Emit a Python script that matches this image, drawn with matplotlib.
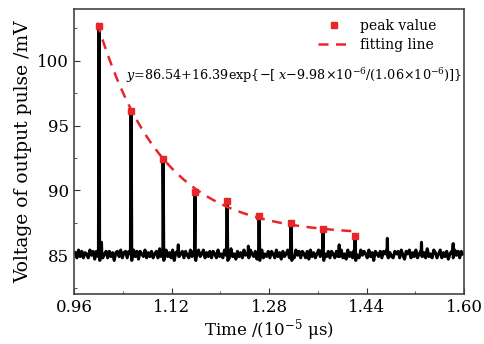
import numpy as np
import matplotlib.pyplot as plt
from matplotlib.ticker import MultipleLocator

plt.rcParams['font.family'] = 'DejaVu Serif'
plt.rcParams['mathtext.fontset'] = 'dejavuserif'

# peak positions (10^-5 us) and peak voltages (mV)
peak_t = [1.001, 1.0535, 1.106, 1.1585, 1.211, 1.2635, 1.316, 1.3685, 1.421]
peak_v = [102.7, 96.15, 92.45, 89.85, 89.15, 88.0, 87.45, 87.05, 86.45]

# small stray spikes on the baseline
spike_t = [1.005, 1.131, 1.246, 1.395, 1.474, 1.530, 1.582]
spike_v = [86.0, 85.8, 85.7, 85.8, 86.3, 86.0, 85.9]

baseline = 85.1
# baseline noise (mV offsets)
noise = [0.1, -0.3, 0.3, -0.2, 0.2, -0.3, 0.1, 0.0, -0.3, 0.3, -0.1, 0.2,
         -0.4, 0.2, -0.2, 0.2, 0.3, -0.3, 0.0, 0.2, -0.3, 0.2, -0.2, 0.1,
         -0.5, 0.1, 0.2, -0.2, 0.3, -0.3, 0.1, 0.2, -0.3, 0.2, 0.0, -0.3,
         0.3, -0.2, 0.2, -0.4, 0.2, 0.0, -0.2, 0.3, -0.3, 0.1, -0.2, 0.2,
         -0.3, 0.0, 0.2, -0.3, 0.4, -0.2, 0.0, -0.3, 0.3, -0.2, 0.1, -0.3,
         0.3, -0.5, 0.1, 0.2, -0.2, 0.0, 0.2, -0.3, 0.2, -0.1, -0.3, 0.3,
         -0.2, 0.2, -0.4, 0.0, 0.3, -0.2, 0.0, 0.3, -0.3, 0.1, -0.2, 0.2,
         -0.3, 0.2, 0.0, -0.3, 0.3, -0.2, 0.0, -0.3, 0.3, -0.1, 0.2, -0.3,
         0.4, -0.2, 0.0, -0.4, 0.2, -0.2, 0.1, -0.3, 0.3, -0.1, 0.0, -0.3,
         0.3, 0.0, -0.2, 0.2, -0.4, 0.2, -0.2, 0.3, -0.3, 0.0, -0.2, 0.2,
         -0.3, 0.2, 0.0, -0.3, 0.3, -0.2, 0.1, -0.4, 0.2, -0.2, 0.0, 0.3,
         -0.3, 0.1, -0.2, -0.3, 0.3, -0.1, 0.2, -0.3, 0.2, 0.0, -0.3, 0.2,
         -0.4, 0.3, -0.2, 0.1, -0.3, 0.0, 0.3, -0.2, 0.3, -0.3, 0.0, -0.2,
         0.2, -0.3, 0.2, 0.0, -0.3, 0.2, -0.2, 0.1, 0.3, -0.3, 0.0, -0.4,
         0.3, -0.2, 0.1, -0.3, 0.3, 0.0, -0.2, -0.3, 0.3, -0.1, 0.2, 0.0,
         -0.3, 0.3, -0.2, 0.1, -0.5, 0.2, 0.0, -0.2, 0.2, -0.3, 0.2, 0.0,
         0.3, -0.3, 0.1, -0.2, -0.3, 0.2, 0.0, 0.2, -0.3, 0.3, -0.1, -0.4,
         0.2, 0.0, 0.3, -0.3, 0.1, -0.2, 0.3, -0.3, 0.0, 0.2, -0.2, 0.1,
         -0.3, 0.4, -0.2, 0.0, -0.3, 0.3, 0.1, -0.3, 0.0, 0.3, -0.3, 0.1,
         -0.2, 0.2, -0.4, 0.0, 0.2, -0.3, 0.3, -0.1, 0.2, -0.3, 0.2, 0.0]

# fit parameters from the figure's equation (x in 10^-5 us)
fit_a, fit_b, fit_x0, fit_tau = 86.54, 16.39, 0.998, 0.106
fit_range = (0.998, 1.415)

t_noise = np.linspace(0.962, 1.598, len(noise))
tx = list(t_noise)
vy = list(baseline + np.array(noise))
for px, pv in zip(peak_t, peak_v):
    tx += [px - 0.0010, px - 0.0003, px + 0.0003, px + 0.0012]
    vy += [baseline, pv, pv, baseline - 0.5]
for px, pv in zip(spike_t, spike_v):
    tx += [px - 0.0007, px, px + 0.0007]
    vy += [baseline, pv, baseline - 0.2]
order = np.argsort(tx)
tx = np.array(tx)[order]
vy = np.array(vy)[order]

red = '#e8262a'
fig = plt.figure(figsize=(4.84, 3.44), dpi=100)
ax = fig.add_axes([0.153, 0.145, 0.806, 0.829])

ax.plot(tx, vy, color='black', lw=2.2, zorder=2)
tf = np.linspace(fit_range[0], fit_range[1], 200)
ax.plot(tf, fit_a + fit_b * np.exp(-(tf - fit_x0) / fit_tau), color=red,
        ls=(0, (4, 3)), lw=1.8, label='fitting line', zorder=3)
ax.plot(peak_t, peak_v, 's', color=red, ms=5, label='peak value', zorder=4)

ax.set_xlim(0.96, 1.60)
ax.set_ylim(82, 104)
ax.set_xticks([0.96, 1.12, 1.28, 1.44, 1.60])
ax.set_yticks([85, 90, 95, 100])
ax.xaxis.set_minor_locator(MultipleLocator(0.08))
ax.yaxis.set_minor_locator(MultipleLocator(2.5))
ax.tick_params(which='both', direction='in', labelsize=12, colors='#333333',
               labelcolor='black')
ax.tick_params(which='major', length=4)
ax.tick_params(which='minor', length=2.5)
for s in ax.spines.values():
    s.set_color('#444444')
    s.set_linewidth(1.2)

ax.set_xlabel(r'Time /(10$^{-5}$ μs)', fontsize=12, labelpad=1)
ax.set_ylabel('Voltage of output pulse /mV', fontsize=13.5, labelpad=4)

ax.text(1.045, 98.9,
        r'$y$=86.54+16.39exp{−[ $x$−9.98×10$^{-6}$/(1.06×10$^{-6}$)]}',
        fontsize=9.2, va='center')

h, l = ax.get_legend_handles_labels()
ax.legend(h[::-1], l[::-1], loc='upper right', frameon=False, fontsize=10,
          handlelength=2.2, borderaxespad=0.2, labelspacing=0.4,
          bbox_to_anchor=(0.95, 0.995))

fig.savefig('out.png', dpi=100)
